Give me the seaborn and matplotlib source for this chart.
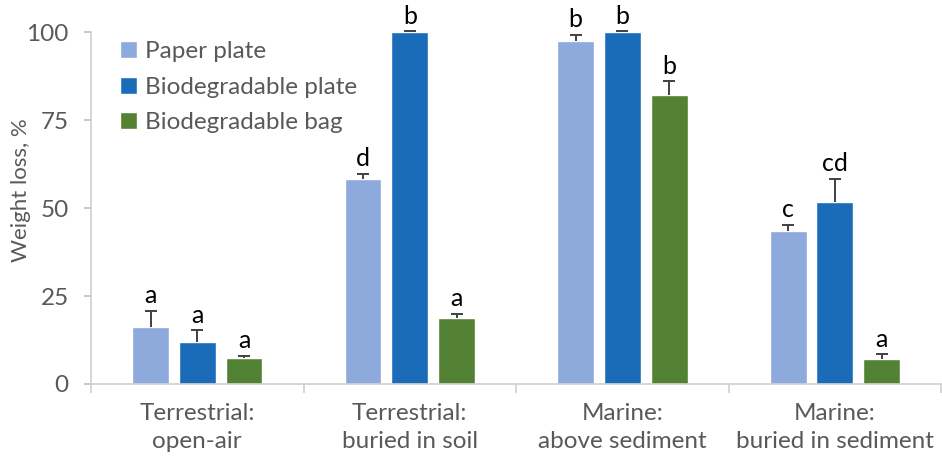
import seaborn as sns
import pandas as pd
import matplotlib.pyplot as plt

# data
sites = ["Terrestrial:\nopen-air", "Terrestrial:\nburied in soil",
         "Marine:\nabove sediment", "Marine:\nburied in sediment"]
materials = ["Paper plate", "Biodegradable plate", "Biodegradable bag"]
paper = [16.3, 58.4, 97.5, 43.6]
bio_plate = [11.8, 100.0, 100.0, 51.8]
bio_bag = [7.5, 18.7, 82.2, 7.1]
paper_err = [4.5, 1.3, 1.8, 1.6]
plate_err = [3.5, 0.2, 0.2, 6.6]
bag_err = [0.5, 1.2, 3.9, 1.3]
paper_let = ["a", "d", "b", "c"]
plate_let = ["a", "b", "b", "cd"]
bag_let = ["a", "a", "b", "a"]

rows = []
for i, s in enumerate(sites):
    rows.append([s, materials[0], paper[i], paper_err[i], paper_let[i]])
    rows.append([s, materials[1], bio_plate[i], plate_err[i], plate_let[i]])
    rows.append([s, materials[2], bio_bag[i], bag_err[i], bag_let[i]])
df = pd.DataFrame(rows, columns=["site", "material", "loss", "err", "letter"])

sns.set_style("white")
plt.rcParams['font.family'] = ['Lato', 'DejaVu Sans']
grey = "#595959"
colors = ["#8EA9DB", "#1B6CB8", "#548235"]

fig = plt.figure(figsize=(9.42, 4.66), dpi=100)
ax = fig.add_axes([0.0966, 0.176, 0.9024, 0.755])
sns.barplot(data=df, x="site", y="loss", hue="material", hue_order=materials,
            order=sites, palette=colors, errorbar=None, width=0.66, gap=0.21,
            ax=ax, saturation=1)

# error bars (upper only) and letters from the bar patches
bars = [p for p in ax.patches if p.get_height() > 0]
for p in bars:
    xc = p.get_x() + p.get_width() / 2
    h = p.get_height()
    col = p.get_facecolor()
    mi = [i for i, c in enumerate(colors) if abs(int(c[1:3], 16) / 255 - col[0]) < 0.01][0]
    si = round(xc)
    r = df[(df.site == sites[si]) & (df.material == materials[mi])].iloc[0]
    eb = ax.errorbar(xc, h, yerr=[[0], [r.err]], color="#404040", capsize=4.5,
                     elinewidth=1.4, capthick=1.4, clip_on=False)
    for cl in eb[1]:
        if abs(cl.get_ydata()[0] - h) < 1e-9:
            cl.set_visible(False)
    ax.text(xc, h + r.err + 1.0, r.letter, ha="center", va="bottom",
            fontsize=18, color="black", clip_on=False)

ax.set_ylim(0, 100)
ax.set_xlim(-0.5, 3.5)
ax.set_yticks([0, 25, 50, 75, 100])
ax.set_xticks([-0.5, 0.5, 1.5, 2.5, 3.5], minor=True)
ax.tick_params(axis="x", which="major", length=0, pad=14, labelsize=17.5, labelcolor=grey)
ax.tick_params(axis="x", which="minor", bottom=True, length=6.5, color="#D0D0D0", width=1.2)
ax.tick_params(axis="y", left=True, length=5, pad=11, labelsize=17.5, labelcolor=grey,
               color="#BFBFBF", width=1.2)
for lab in ax.get_xticklabels():
    lab.set_linespacing(1.4)
ax.set_xlabel("")
ax.set_ylabel("Weight loss, %", fontsize=16, color=grey)
ax.yaxis.set_label_coords(-0.071, 0.55)
sns.despine(ax=ax)
for sp in ["left", "bottom"]:
    ax.spines[sp].set_color("#D0D0D0")
    ax.spines[sp].set_linewidth(1.2)

leg = ax.legend(loc="upper left", bbox_to_anchor=(0.034, 0.975), frameon=False,
                fontsize=17.5, handlelength=0.7, handleheight=0.7, borderpad=0,
                borderaxespad=0, handletextpad=0.35, labelspacing=0.6)
for t in leg.get_texts():
    t.set_color(grey)

fig.savefig("out.png", dpi=100)
